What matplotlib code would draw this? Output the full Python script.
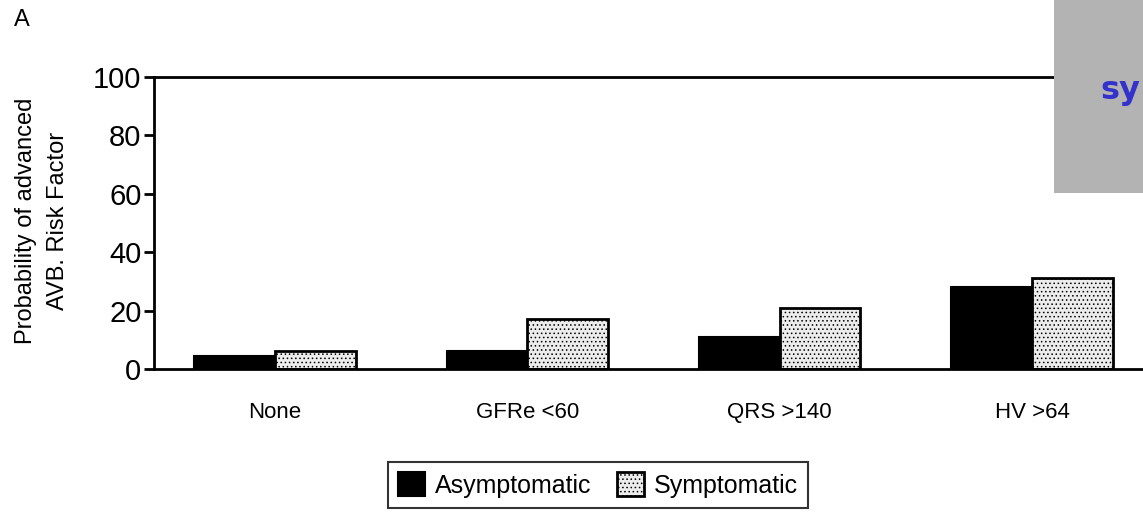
import matplotlib
matplotlib.use("Agg")
import matplotlib.pyplot as plt
import matplotlib.patches as mpatches
import numpy as np

plt.rcParams['font.family'] = ['Liberation Sans', 'DejaVu Sans']
plt.rcParams['hatch.color'] = '#a0a0a0'
plt.rcParams['hatch.linewidth'] = 0.6

# Probability of advanced AVB per risk factor
categories = ['None', 'GFRe <60', 'QRS >140', 'HV >64']
asymptomatic = [4.5, 6, 11, 28]
symptomatic = [6, 17, 21, 31]
yticks = [0, 20, 40, 60, 80, 100]

fig = plt.figure(figsize=(11.43, 5.15), dpi=100)
ax = fig.add_axes([154 / 1143, 1 - 369 / 515, 1 - 154 / 1143, (369 - 77) / 515])

x = np.arange(len(categories))
w = 0.32
ax.bar(x - w / 2, asymptomatic, w, color='black', edgecolor='black', linewidth=1.5,
       label='Asymptomatic')
ax.bar(x + w / 2, symptomatic, w, color='#ececec', edgecolor='black', linewidth=2,
       hatch='....', label='Symptomatic')

ax.set_xlim(-0.48, 3.44)
ax.set_ylim(0, 100)
ax.set_yticks(yticks)
ax.set_xticks(x)
ax.set_xticklabels(categories, fontsize=16)
ax.tick_params(axis='x', length=0, pad=24)
ax.tick_params(axis='y', labelsize=21, width=2, length=7, pad=2)
ax.spines['right'].set_visible(False)
for s in ['left', 'bottom', 'top']:
    ax.spines[s].set_linewidth(2)

fig.text(42 / 1143, 1 - 221 / 515, 'Probability of advanced\nAVB. Risk Factor',
         fontsize=17, rotation=90, ha='center', va='center', linespacing=1.6)

leg = fig.legend(loc='center', bbox_to_anchor=(598 / 1143, 1 - 485 / 515), ncol=2,
                 fontsize=18, frameon=True, fancybox=False, edgecolor='black',
                 handlelength=1.1, handleheight=1.1, handletextpad=0.4,
                 columnspacing=1.0, borderpad=0.4)
leg.get_frame().set_linewidth(1.5)

fig.text(14 / 1143, 1 - 20 / 515, 'A', fontsize=17, va='center', ha='left')

# grey panel in the upper right corner
fig.patches.append(mpatches.Rectangle((1054 / 1143, 1 - 193 / 515), 89 / 1143, 193 / 515,
                                      transform=fig.transFigure, facecolor='#b3b3b3',
                                      edgecolor='none', zorder=5))
fig.text(1100 / 1143, 1 - 90 / 515, 'sy', fontsize=23, fontweight='bold',
         color='#3333cc', family='DejaVu Sans', va='center', ha='left', zorder=6)

fig.savefig('out.png', dpi=100)
